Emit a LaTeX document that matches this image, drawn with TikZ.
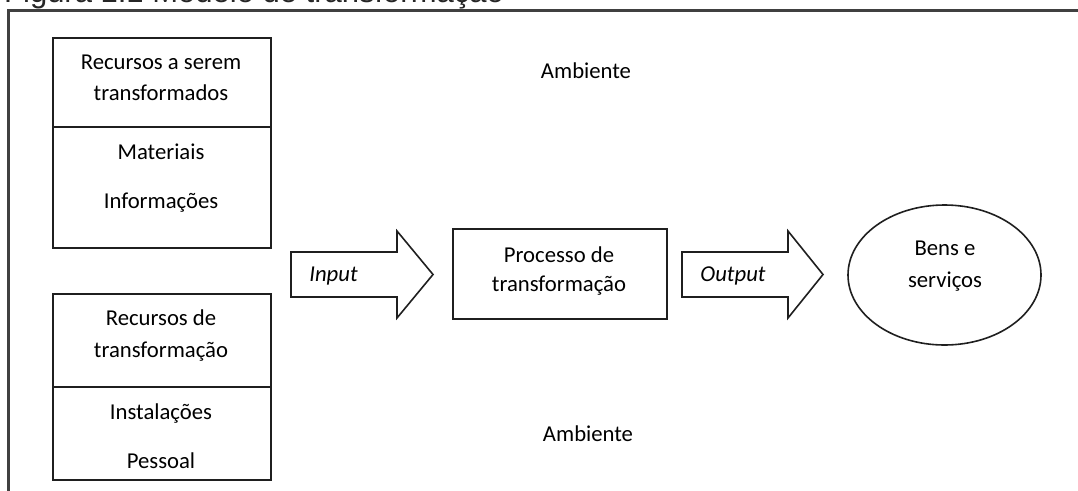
\documentclass[tikz,border=0pt]{standalone}
\usepackage{fontspec}
\usetikzlibrary{shapes.geometric}
\setmainfont{Carlito}
\newfontfamily\titlefont{Liberation Sans}
\begin{document}
\begin{tikzpicture}[x=1pt,y=-1pt,
  box/.style={draw=black!88,line width=1.7pt},
  frame/.style={draw=black!75,line width=2.3pt},
  blockarrow/.style={draw=black!88,line width=1.6pt,line join=miter},
  txt/.style={anchor=base,inner sep=0pt,font=\fontsize{22.7}{27}\selectfont},
  itxt/.style={txt,font=\fontsize{22.7}{27}\selectfont\itshape},
]
\useasboundingbox (0,0) rectangle (1078,490);
% title (cut off at the top)
\node[anchor=base west,inner sep=0pt,text=black!85,font=\titlefont\fontsize{31}{36}\selectfont] (title) at (4,2.5) {Figura 1.1 Modelo de transformação};
% outer frame
\draw[frame] (8.5,530) -- (8.5,10.5) -- (1100,10.5);
% top-left box
\node[box,anchor=north west,minimum width=218pt,minimum height=210pt,inner sep=0pt] (r1) at (52,37) {};
\draw[box] ([yshift=-90pt]r1.north west) -- ([yshift=-90pt]r1.north east);
\node[txt] (r1a) at (161,69) {Recursos a serem};
\node[txt] (r1b) at (161,100) {transformados};
\node[txt] (r1c) at (161,159) {Materiais};
\node[txt] (r1d) at (161,208) {Informações};
% bottom-left box
\node[box,anchor=north west,minimum width=218pt,minimum height=186pt,inner sep=0pt] (r2) at (52,293) {};
\draw[box] ([yshift=-94pt]r2.north west) -- ([yshift=-94pt]r2.north east);
\node[txt] (r2a) at (161,325) {Recursos de};
\node[txt] (r2b) at (161,357) {transformação};
\node[txt] (r2c) at (161,419) {Instalações};
\node[txt] (r2d) at (161,468) {Pessoal};
% ambiente
\node[txt] (amb1) at (586,78) {Ambiente};
\node[txt] (amb2) at (588,441) {Ambiente};
% input arrow
\draw[blockarrow] (291,252) -- (397,252) -- (397,231) -- (433,274.5) -- (397,318) -- (397,297) -- (291,297) -- cycle;
\node[itxt] (in) at (333.5,281) {Input};
% process box
\node[box,anchor=north west,minimum width=214pt,minimum height=90pt,inner sep=0pt] (proc) at (452,228) {};
\node[txt] (p1) at (559,262) {Processo de};
\node[txt] (p2) at (559,291) {transformação};
% output arrow
\draw[blockarrow] (682,252) -- (788,252) -- (788,231) -- (823,274.5) -- (788,318) -- (788,297) -- (682,297) -- cycle;
\node[itxt] (out) at (733,281) {Output};
% ellipse
\node[box,line width=1.6pt,ellipse,minimum width=193pt,minimum height=140pt,inner sep=0pt] (ell) at (944.5,275) {};
\node[txt] (e1) at (945,255) {Bens e};
\node[txt] (e2) at (945,287) {serviços};
\end{tikzpicture}
\end{document}
